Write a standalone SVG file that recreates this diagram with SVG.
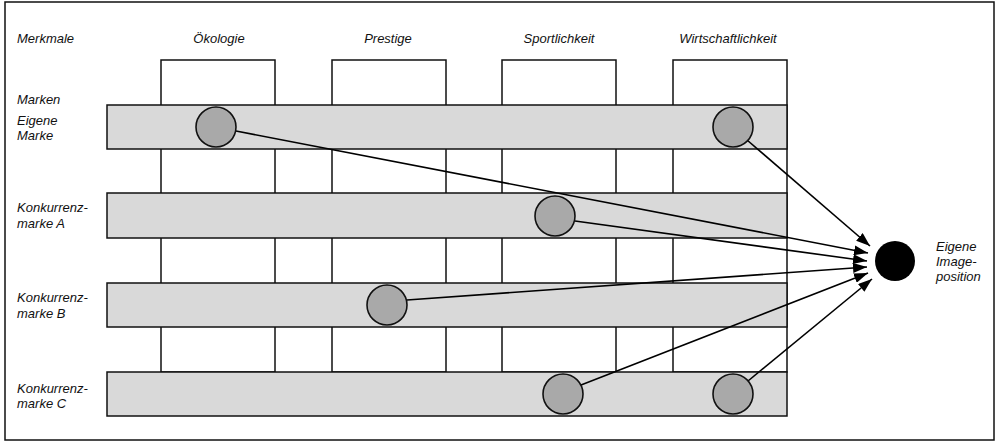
<svg xmlns="http://www.w3.org/2000/svg" width="997" height="445" viewBox="0 0 997 445">
<defs>
<marker id="ah" viewBox="0 0 14 10" refX="14" refY="5" markerWidth="14" markerHeight="10" markerUnits="userSpaceOnUse" orient="auto">
<path d="M0,0 L14,5 L0,10 Z" fill="#000"/>
</marker>
</defs>
<style>
text{font-family:"Liberation Sans",Arial,sans-serif;font-style:italic;font-size:13px;fill:#111}
.col{fill:#fff;stroke:#111;stroke-width:1.5}
.bar{fill:#d9d9d9;stroke:#111;stroke-width:1.5}
.pt{fill:#a9a9a9;stroke:#111;stroke-width:1.6}
.ar{stroke:#000;stroke-width:1.6;fill:none;marker-end:url(#ah)}
.mid{text-anchor:middle}
</style>
<rect x="5" y="2" width="989" height="438" fill="#fff" stroke="#111" stroke-width="1.5"/>
<g id="labels">
<text x="17" y="43">Merkmale</text>
<text x="17" y="104">Marken</text>
</g>
<g id="col-oekologie"><rect class="col" x="161" y="60" width="114" height="312"/><text class="mid" x="219" y="43">Ökologie</text></g>
<g id="col-prestige"><rect class="col" x="332" y="60" width="114" height="312"/><text class="mid" x="388" y="43">Prestige</text></g>
<g id="col-sport"><rect class="col" x="502" y="60" width="114" height="312"/><text class="mid" x="559" y="43">Sportlichkeit</text></g>
<g id="col-wirtschaft"><rect class="col" x="673" y="60" width="114" height="312"/><text class="mid" x="728" y="43">Wirtschaftlichkeit</text></g>
<g id="bar-eigene"><rect class="bar" x="107" y="105" width="680" height="44"/><text x="17" y="125">Eigene</text><text x="17" y="140">Marke</text></g>
<g id="bar-a"><rect class="bar" x="107" y="193" width="680" height="45"/><text x="17" y="212">Konkurrenz-</text><text x="17" y="228">marke A</text></g>
<g id="bar-b"><rect class="bar" x="107" y="283" width="680" height="44"/><text x="17" y="302">Konkurrenz-</text><text x="17" y="318">marke B</text></g>
<g id="bar-c"><rect class="bar" x="107" y="372" width="680" height="44"/><text x="17" y="393">Konkurrenz-</text><text x="17" y="408">marke C</text></g>
<g id="connectors">
<line class="ar" x1="236" y1="131" x2="868" y2="253"/>
<line class="ar" x1="747" y1="140" x2="870" y2="246"/>
<line class="ar" x1="575" y1="221" x2="867" y2="261"/>
<line class="ar" x1="407" y1="300" x2="867" y2="267"/>
<line class="ar" x1="581" y1="385" x2="868" y2="273"/>
<line class="ar" x1="748" y1="381" x2="872" y2="279"/>
</g>
<g id="pt-eigene-oeko"><circle class="pt" cx="216" cy="127" r="20"/></g>
<g id="pt-eigene-wirt"><circle class="pt" cx="733" cy="127" r="20"/></g>
<g id="pt-a-sport"><circle class="pt" cx="555" cy="216" r="20"/></g>
<g id="pt-b-prestige"><circle class="pt" cx="387" cy="305" r="20"/></g>
<g id="pt-c-sport"><circle class="pt" cx="563" cy="394" r="20"/></g>
<g id="pt-c-wirt"><circle class="pt" cx="733" cy="394" r="20"/></g>
<g id="target"><circle cx="895" cy="261" r="20" fill="#000"/><text x="936" y="251">Eigene</text><text x="936" y="266">Image-</text><text x="936" y="281">position</text></g>
</svg>
